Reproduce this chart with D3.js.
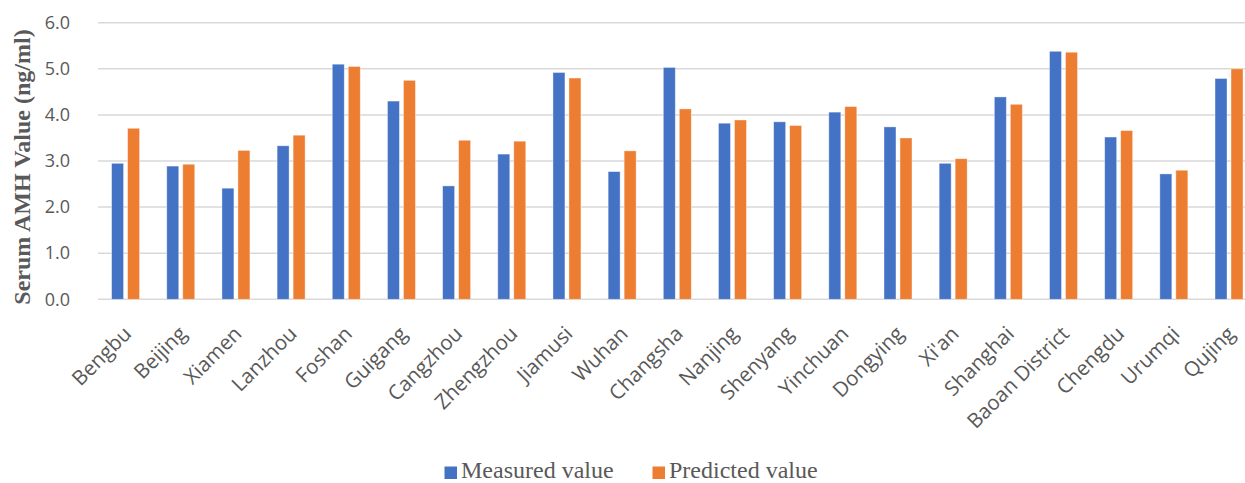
<!DOCTYPE html>
<html>
<head>
<meta charset="utf-8">
<script src="https://cdn.jsdelivr.net/npm/d3@7"></script>
<style>
  html, body { margin: 0; padding: 0; background: #fff; }
  svg { display: block; }
</style>
</head>
<body>
<svg id="chart" width="1245" height="483"></svg>
<script>
// Serum AMH by city: measured vs predicted (ng/ml)
const cities = ["Bengbu", "Beijing", "Xiamen", "Lanzhou", "Foshan", "Guigang", "Cangzhou",
  "Zhengzhou", "Jiamusi", "Wuhan", "Changsha", "Nanjing", "Shenyang", "Yinchuan", "Dongying",
  "Xi'an", "Shanghai", "Baoan District", "Chengdu", "Urumqi", "Qujing"];
const measured = [2.95, 2.89, 2.41, 3.33, 5.10, 4.30, 2.46, 3.15, 4.92, 2.77, 5.03,
  3.82, 3.85, 4.06, 3.74, 2.95, 4.39, 5.38, 3.52, 2.72, 4.79];
const predicted = [3.71, 2.93, 3.23, 3.56, 5.05, 4.75, 3.45, 3.43, 4.80, 3.22, 4.13,
  3.89, 3.77, 4.18, 3.50, 3.05, 4.23, 5.36, 3.66, 2.80, 5.00];
const seriesNames = ["Measured value", "Predicted value"];
const seriesColors = ["#4472C4", "#ED7D31"];
const yTicks = [0, 1, 2, 3, 4, 5, 6];

const svg = d3.select("#chart");
const gray = "#595959";

const y = d3.scaleLinear().domain([0, 6]).range([299.3, 22.7]);
const x = d3.scaleBand().domain(cities).range([98, 1256.6]).padding(0);
const sub = d3.scaleBand().domain(seriesNames).range([0, 28]).paddingInner(0.25);

// horizontal gridlines
svg.append("g")
  .selectAll("line")
  .data(yTicks)
  .join("line")
  .attr("x1", 98).attr("x2", 1245)
  .attr("y1", d => y(d)).attr("y2", d => y(d))
  .attr("stroke", "#d9d9d9")
  .attr("stroke-width", 1.5);

// y axis tick labels
const yAxis = d3.axisLeft(y).tickValues(yTicks).tickFormat(d3.format(".1f")).tickSize(0).tickPadding(0);
const gy = svg.append("g").attr("transform", "translate(70,0)").call(yAxis);
gy.select(".domain").remove();
gy.selectAll("text")
  .attr("fill", gray)
  .style("font-family", "'Open Sans', 'Noto Sans', sans-serif")
  .style("font-size", "18px");

// y axis title
svg.append("text")
  .attr("transform", "translate(30,167) rotate(-90)")
  .attr("text-anchor", "middle")
  .attr("fill", gray)
  .style("font-family", "'Liberation Serif', 'Times New Roman', serif")
  .style("font-weight", "bold")
  .style("font-size", "24px")
  .text("Serum AMH Value (ng/ml)");

// grouped bars
const rows = cities.map((c, i) => ({ city: c, values: [measured[i], predicted[i]] }));
const groups = svg.append("g")
  .selectAll("g")
  .data(rows)
  .join("g")
  .attr("transform", d => `translate(${x(d.city) + x.bandwidth() / 2 - 14},0)`);

groups.selectAll("rect")
  .data(d => d.values.map((v, j) => ({ name: seriesNames[j], value: v, color: seriesColors[j] })))
  .join("rect")
  .attr("x", d => sub(d.name))
  .attr("width", sub.bandwidth())
  .attr("y", d => y(d.value))
  .attr("height", d => y(0) - y(d.value))
  .attr("fill", d => d.color)
  .attr("stroke", "#ffffff")
  .attr("stroke-opacity", 0.5)
  .attr("stroke-width", 0.8);

// x axis category labels, rotated
const xAxis = d3.axisBottom(x).tickSize(0).tickPadding(0);
const gx = svg.append("g").attr("transform", "translate(0,299)").call(xAxis);
gx.select(".domain").remove();
gx.selectAll("text")
  .attr("fill", gray)
  .style("font-family", "'Open Sans', 'Noto Sans', sans-serif")
  .style("font-size", "20.5px")
  .attr("text-anchor", "end")
  .attr("dy", null)
  .attr("y", 0)
  .attr("transform", "translate(7,36) rotate(-45)");

// legend
const legendX = [444.5, 652.5];
const legend = svg.append("g")
  .selectAll("g")
  .data(seriesNames)
  .join("g")
  .attr("transform", (d, i) => `translate(${legendX[i]},466.5)`);
legend.append("rect")
  .attr("width", 12.5).attr("height", 12.5)
  .attr("fill", (d, i) => seriesColors[i]);
legend.append("text")
  .attr("x", 16.5).attr("y", 11.5)
  .attr("fill", gray)
  .style("font-family", "'Liberation Serif', 'Times New Roman', serif")
  .style("font-size", "24px")
  .text(d => d);
</script>
</body>
</html>
